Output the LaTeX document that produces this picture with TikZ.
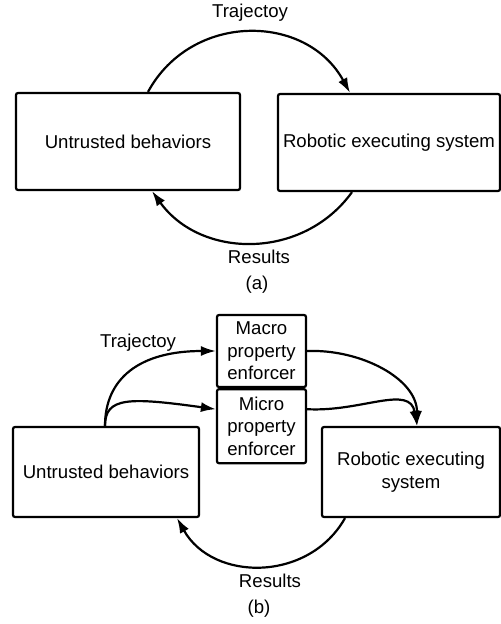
\documentclass[tikz,border=0pt]{standalone}
\usepackage{fontspec}
\setmainfont{Liberation Sans}
\usetikzlibrary{arrows.meta, positioning}
\tikzset{
  box/.style={draw, line width=1.1pt, rounded corners=1pt, align=center, inner sep=1pt},
  >={Latex[length=7.5pt,width=5pt]}
}
\begin{document}
\begin{tikzpicture}[x=0.5pt, y=-0.5pt, line width=1.1pt, font=\fontsize{9.3}{11.3}\selectfont]
    \useasboundingbox (0,0) rectangle (501,624);

    \node[box,minimum width=112pt,minimum height=48.5pt] (ua) at (128,141.5) {Untrusted behaviors};
    \node[box,minimum width=111pt,minimum height=48.5pt] (ra) at (389,142.5) {Robotic executing system};
    \node (ta) at (250,13) {Trajectoy};
    \node (resa) at (259,257) {Results};
    \node (capa) at (257,285) {(a)};

    \draw[->] ([xshift=10pt]ua.north) .. controls +(43.5,-80) and +(-43.5,-80) .. ([xshift=-19.5pt]ra.north);
    \draw[->] ([xshift=-18.5pt]ra.south) .. controls +(-49,68) and +(49,68) .. ([xshift=12pt]ua.south);

    \node[box,minimum width=44.5pt,minimum height=36pt] (mac) at (261.5,351) {Macro\\property\\enforcer};
    \node[box,minimum width=44.5pt,minimum height=37pt,below=0pt of mac] (mic) {Micro\\property\\enforcer};
    \node[box,minimum width=93pt,minimum height=45pt] (ub) at (106,472) {Untrusted behaviors};
    \node[box,minimum width=89pt,minimum height=45pt] (rb) at (411,472) {Robotic executing\\system};
    \node (tb) at (138,343) {Trajectoy};
    \node (resb) at (270,581) {Results};
    \node (capb) at (259,609) {(b)};

    \draw[->] ([xshift=-0.5pt]ub.north) .. controls +(0,-47) and +(-77,0) .. (mac.west);
    \draw[->] ([xshift=-0.5pt]ub.north) .. controls +(0,-29) and +(-87,-12) .. ([yshift=8.5pt]mic.west);
    \draw[->] (mac.east) .. controls +(54,-2) and +(0,-47) .. ([xshift=3pt]rb.north);
    \draw[->] ([yshift=8.5pt]mic.east) .. controls +(54,3) and +(-7,-42) .. ([xshift=3pt]rb.north);
    \draw[->] ([xshift=-33pt]rb.south) .. controls +(-36,64) and +(36,64) .. ([xshift=35.5pt]ub.south);
\end{tikzpicture}
\end{document}
